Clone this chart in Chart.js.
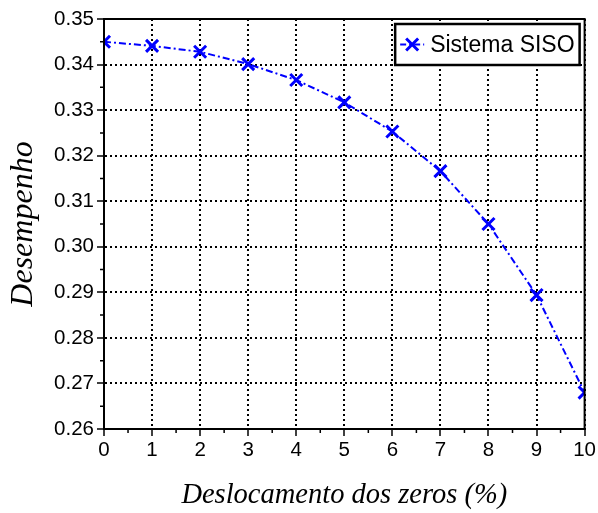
<!DOCTYPE html>
<html>
<head>
<meta charset="utf-8">
<script src="https://cdn.jsdelivr.net/npm/chart.js@4/dist/chart.umd.min.js"></script>
<style>
html,body{margin:0;padding:0;background:#fff;}
#wrap{width:598px;height:513px;position:relative;}
</style>
</head>
<body>
<div id="wrap"><canvas id="c" width="598" height="513"></canvas></div>
<script>
const xValues = [0, 1, 2, 3, 4, 5, 6, 7, 8, 9, 10];
const desempenho = [0.3450, 0.3441, 0.3428, 0.3401, 0.3366, 0.3317, 0.3253, 0.3166, 0.3050, 0.2894, 0.2680];
const seriesLabel = 'Sistema SISO';
const xTitle = 'Deslocamento dos zeros (%)';
const yTitle = 'Desempenho';
const xTickLabels = ['0','1','2','3','4','5','6','7','8','9','10'];
const yTickLabels = ['0.26','0.27','0.28','0.29','0.30','0.31','0.32','0.33','0.34','0.35'];

const points = xValues.map((x, i) => ({x: x, y: desempenho[i]}));
const BLUE = '#0000ff';
const TICKFONT = {family: '"Liberation Sans", Arial, sans-serif', size: 20.5};

const framePlugin = {
  id: 'frame',
  afterDraw(chart) {
    const ctx = chart.ctx;
    const a = chart.chartArea;
    const xs = chart.scales.x, ys = chart.scales.y;
    ctx.save();
    ctx.strokeStyle = '#000';
    ctx.lineWidth = 2;
    ctx.strokeRect(a.left, a.top, a.right - a.left, a.bottom - a.top);
    // minor ticks
    ctx.lineWidth = 1.5;
    ctx.beginPath();
    for (let i = 0; i < xValues.length - 1; i++) {
      const px = xs.getPixelForValue((xValues[i] + xValues[i + 1]) / 2);
      ctx.moveTo(px, a.bottom);
      ctx.lineTo(px, a.bottom + 4);
    }
    for (let i = 0; i < yTickLabels.length - 1; i++) {
      const v = (parseFloat(yTickLabels[i]) + parseFloat(yTickLabels[i + 1])) / 2;
      const py = ys.getPixelForValue(v);
      ctx.moveTo(a.left, py);
      ctx.lineTo(a.left - 4, py);
    }
    ctx.stroke();
    // legend box
    const ds = chart.data.datasets[0];
    ctx.font = '23px "Liberation Sans", Arial, sans-serif';
    const tw = ctx.measureText(ds.label).width;
    const boxH = 41;
    const boxW = 35 + tw + 5;
    const bx = a.right - 5 - boxW;
    const by = a.top + 5;
    ctx.fillStyle = '#fff';
    ctx.fillRect(bx, by, boxW, boxH);
    ctx.lineWidth = 2.5;
    ctx.strokeStyle = '#000';
    ctx.strokeRect(bx, by, boxW, boxH);
    const cy = by + boxH / 2;
    ctx.strokeStyle = BLUE;
    ctx.lineWidth = 2;
    ctx.setLineDash([6, 3, 2, 3]);
    ctx.beginPath();
    ctx.moveTo(bx + 5, cy);
    ctx.lineTo(bx + 29, cy);
    ctx.stroke();
    ctx.setLineDash([]);
    const mx = bx + 17, r = 6;
    ctx.lineWidth = 3;
    ctx.beginPath();
    ctx.moveTo(mx - r, cy - r); ctx.lineTo(mx + r, cy + r);
    ctx.moveTo(mx - r, cy + r); ctx.lineTo(mx + r, cy - r);
    ctx.stroke();
    ctx.fillStyle = '#000';
    ctx.textBaseline = 'middle';
    ctx.textAlign = 'left';
    ctx.fillText(ds.label, bx + 35, cy + 1);
    ctx.restore();
  }
};

new Chart(document.getElementById('c'), {
  type: 'line',
  data: {
    datasets: [{
      label: seriesLabel,
      data: points,
      borderColor: BLUE,
      backgroundColor: BLUE,
      borderWidth: 2,
      borderDash: [7, 3, 2, 3],
      tension: 0,
      pointStyle: 'crossRot',
      pointRadius: 8.5,
      pointBorderWidth: 3,
      pointBorderColor: BLUE,
      clip: 0
    }]
  },
  options: {
    responsive: false,
    animation: false,
    devicePixelRatio: 1,
    layout: {padding: {left: 0, right: 11, top: 19, bottom: 0}},
    plugins: {legend: {display: false}, tooltip: {enabled: false}},
    scales: {
      x: {
        type: 'linear',
        min: 0, max: 10,
        afterFit(s) { s.height = 84; },
        ticks: {
          stepSize: 1,
          color: '#000',
          font: TICKFONT,
          padding: 2,
          maxRotation: 0,
          callback: (v) => { const i = xValues.indexOf(v); return i >= 0 ? xTickLabels[i] : ''; }
        },
        grid: {color: '#000', lineWidth: 2, tickLength: 7, tickColor: '#000', tickWidth: 1.5},
        border: {display: true, color: '#000', width: 2, dash: [2, 3]},
        title: {
          display: true, text: xTitle, color: '#000',
          font: {family: '"Liberation Serif", "Times New Roman", serif', size: 28.5, style: 'italic'},
          padding: {top: 0, bottom: 0}
        }
      },
      y: {
        type: 'linear',
        min: 0.26, max: 0.35,
        afterFit(s) { s.width = 104; },
        ticks: {
          stepSize: 0.01,
          color: '#000',
          font: TICKFONT,
          padding: 3,
          callback: (v) => { const i = yTickLabels.findIndex(t => Math.abs(parseFloat(t) - v) < 1e-6); return i >= 0 ? yTickLabels[i] : ''; }
        },
        grid: {color: '#000', lineWidth: 2, tickLength: 7, tickColor: '#000', tickWidth: 1.5},
        border: {display: true, color: '#000', width: 2, dash: [2, 3]},
        title: {
          display: true, text: yTitle, color: '#000',
          font: {family: '"Liberation Serif", "Times New Roman", serif', size: 32, style: 'italic'},
          padding: {top: 4, bottom: 0}
        }
      }
    }
  },
  plugins: [framePlugin]
});
</script>
</body>
</html>
